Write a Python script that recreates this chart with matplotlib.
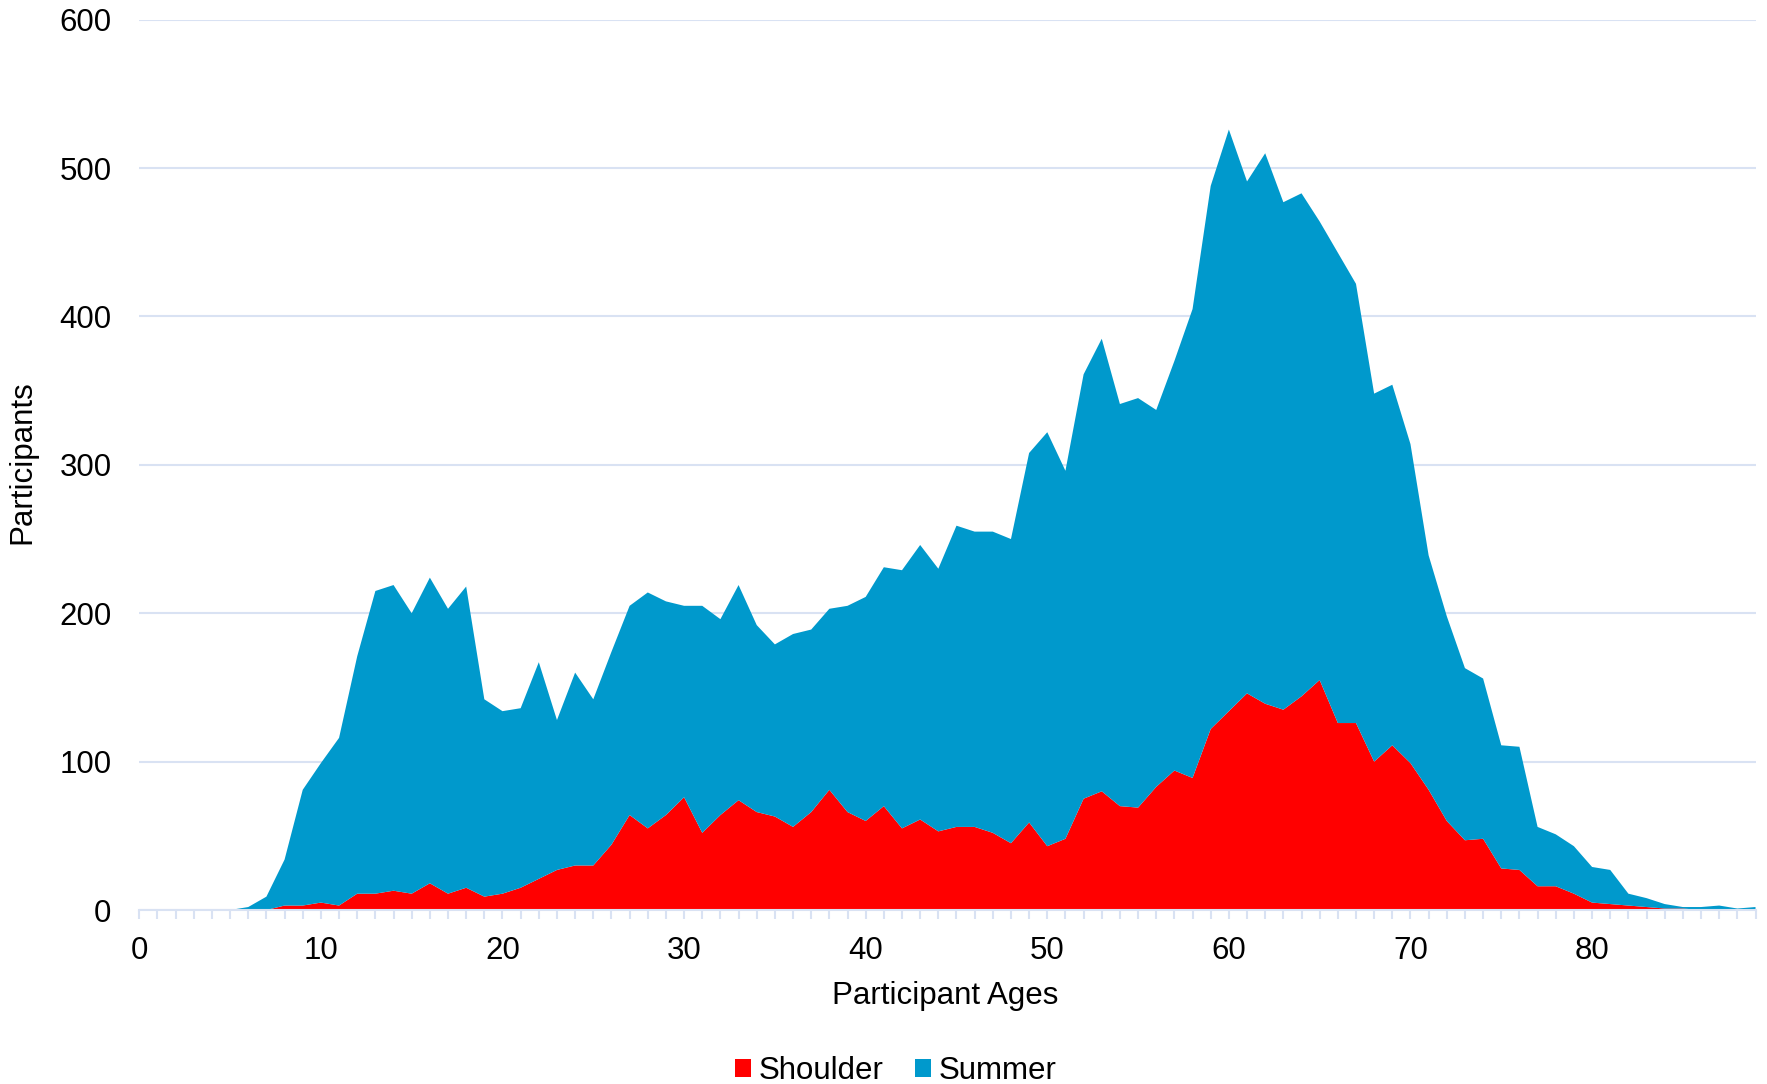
import numpy as np
import matplotlib
matplotlib.use("Agg")
import matplotlib.pyplot as plt
from matplotlib.patches import Patch
from matplotlib.ticker import MultipleLocator

plt.rcParams['font.family'] = ['Liberation Sans', 'DejaVu Sans']

# Participant counts by age (0..89)
ages = np.arange(0, 90)

shoulder = [0, 0, 0, 0, 0, 0, 0, 0, 3, 3,
            5, 3, 11, 11, 13, 11, 18, 11, 15, 9,
            11, 15, 21, 27, 30, 30, 44, 64, 55, 64,
            76, 52, 64, 74, 66, 63, 56, 66, 81, 66,
            60, 70, 55, 61, 53, 56, 56, 52, 45, 59,
            43, 48, 75, 80, 70, 69, 83, 94, 89, 122,
            134, 146, 139, 135, 144, 155, 126, 126, 100, 111,
            99, 81, 60, 47, 48, 28, 27, 16, 16, 11,
            5, 4, 3, 2, 1, 1, 0, 0, 0, 0]

summer = [0, 0, 0, 0, 0, 0, 2, 9, 31, 78,
          94, 113, 160, 204, 206, 189, 206, 192, 203, 133,
          123, 121, 146, 101, 130, 112, 130, 141, 159, 144,
          129, 153, 132, 145, 126, 116, 130, 123, 122, 139,
          151, 161, 174, 185, 177, 203, 199, 203, 205, 249,
          279, 248, 286, 305, 271, 276, 254, 276, 316, 366,
          392, 345, 371, 342, 339, 309, 317, 296, 248, 243,
          215, 158, 138, 116, 108, 83, 83, 40, 35, 32,
          24, 23, 8, 6, 3, 1, 2, 3, 1, 2]

series_names = ['Shoulder', 'Summer']
series_colors = ['#FF0000', '#0099CC']
grid_color = '#D9E2F3'

W, H = 1767, 1084
fig = plt.figure(figsize=(W / 100, H / 100), dpi=100)

# plot area in pixels: left 139, right 1755, top 20, bottom 910
ax = fig.add_axes([139.3 / W, 1 - 910 / H, (1755.5 - 139.3) / W, (910 - 19.7) / H])

ax.stackplot(ages, shoulder, summer, colors=series_colors, linewidth=0)

ax.set_xlim(0, 89)
ax.set_ylim(0, 600)
ax.set_yticks(np.arange(0, 601, 100))
ax.xaxis.set_major_locator(MultipleLocator(10))
ax.xaxis.set_minor_locator(MultipleLocator(1))

ax.grid(axis='y', color=grid_color, linewidth=1.5)
ax.set_axisbelow(True)

for s in ['top', 'right', 'left']:
    ax.spines[s].set_visible(False)
ax.spines['bottom'].set_color(grid_color)
ax.spines['bottom'].set_linewidth(1.5)

ax.tick_params(axis='y', length=0, pad=20, labelsize=22.5, labelcolor='black')
ax.tick_params(axis='x', which='both', length=6.5, width=1.5, color=grid_color,
               direction='out')
ax.tick_params(axis='x', which='major', pad=12.5, labelsize=22.5)

fig.text(945.6 / W, 1 - 996 / H, 'Participant Ages', ha='center', va='center', fontsize=22.5)
fig.text(22 / W, 1 - 462 / H, 'Participants', ha='center', va='center',
         rotation=90, fontsize=22.5)

handles = [Patch(facecolor=c, edgecolor='none') for c in series_colors]
fig.legend(handles, series_names, loc='center', bbox_to_anchor=(0.507, 1 - 1071 / H),
           ncol=2, frameon=False, fontsize=22.5, handlelength=0.5, handleheight=0.5,
           handletextpad=0.25, columnspacing=1.0, borderpad=0)

fig.savefig('out.png', dpi=100)
